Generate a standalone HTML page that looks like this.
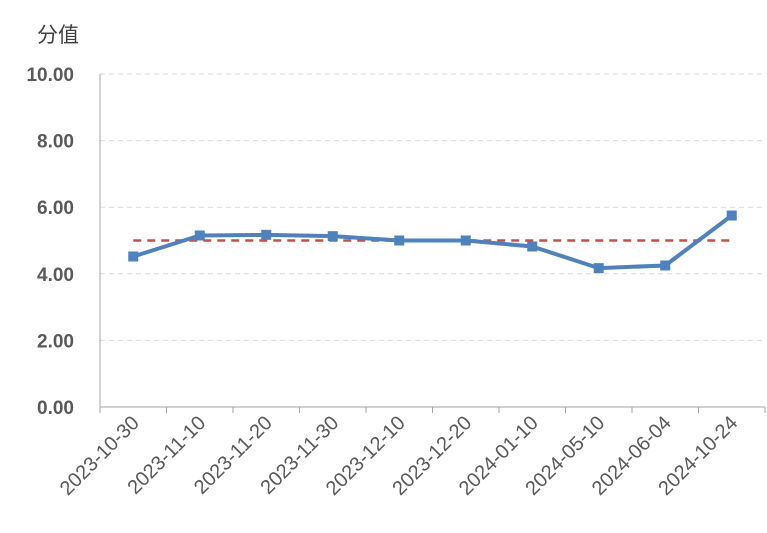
<!DOCTYPE html>
<html><head><meta charset="utf-8"><style>
body{margin:0;background:#fff;}
svg{display:block;font-family:"Liberation Sans","Noto Sans CJK SC",sans-serif;}
</style></head><body>
<svg id="c" width="767" height="533">
<text x="37" y="42" font-size="21" fill="#404040">分值</text>
</svg>
<script>
const categories=["2023-10-30","2023-11-10","2023-11-20","2023-11-30","2023-12-10","2023-12-20","2024-01-10","2024-05-10","2024-06-04","2024-10-24"];
const scores=[4.52,5.15,5.17,5.13,5.0,5.0,4.82,4.17,4.25,5.75];
const refValues=[5,5,5,5,5,5,5,5,5,5];
const yTicks=[0,2,4,6,8,10];
const yTickLabels=["0.00","2.00","4.00","6.00","8.00","10.00"];
const NS="http://www.w3.org/2000/svg";
const svg=document.getElementById('c');
const L=100,R=765,T=74,B=407;
const bw=(R-L)/categories.length;
const xs=i=>L+bw*(i+0.5);
const ys=v=>B-(v/10)*(B-T);
function mk(t,a,p){const e=document.createElementNS(NS,t);for(const k in a)e.setAttribute(k,a[k]);(p||svg).appendChild(e);return e;}
yTicks.forEach((v,i)=>{
 if(v>0){const g=mk('line',{x1:L,x2:R,y1:ys(v),y2:ys(v),stroke:'#d9d9d9','stroke-width':1,'stroke-dasharray':'5,4'});
 
 }
 const t=mk('text',{x:74,y:ys(v)+7,'font-size':19,'font-weight':'bold',fill:'#595959','text-anchor':'end'});
 t.textContent=yTickLabels[i];
 
 
});
const ya=mk('line',{x1:L,x2:L,y1:T,y2:B,stroke:'#a6a6a6','stroke-width':1});


const xa=mk('line',{x1:L,x2:R,y1:B,y2:B,stroke:'#a6a6a6','stroke-width':1});


for(let i=0;i<=categories.length;i++){
 const tk=mk('line',{x1:L+bw*i,x2:L+bw*i,y1:B,y2:B+6,stroke:'#a6a6a6'});
 
 
}
categories.forEach((c,i)=>{
 const x=xs(i)+7,y=B+17;
 const t=mk('text',{x:x,y:y,'font-size':20,fill:'#595959','text-anchor':'end',transform:`rotate(-45 ${x} ${y})`});
 t.textContent=c;
 
 
});
const rl=mk('polyline',{points:refValues.map((v,i)=>xs(i)+','+ys(v)).join(' '),fill:'none',stroke:'#C0504D','stroke-width':2.5,'stroke-dasharray':'8,6'});


const sl=mk('polyline',{points:scores.map((v,i)=>xs(i)+','+ys(v)).join(' '),fill:'none',stroke:'#4F81BD','stroke-width':4,'stroke-linejoin':'round'});


scores.forEach((v,i)=>{
 const m=mk('rect',{x:xs(i)-5,y:ys(v)-5,width:10,height:10,fill:'#4F81BD'});
 
 
});
</script>
</body></html>
